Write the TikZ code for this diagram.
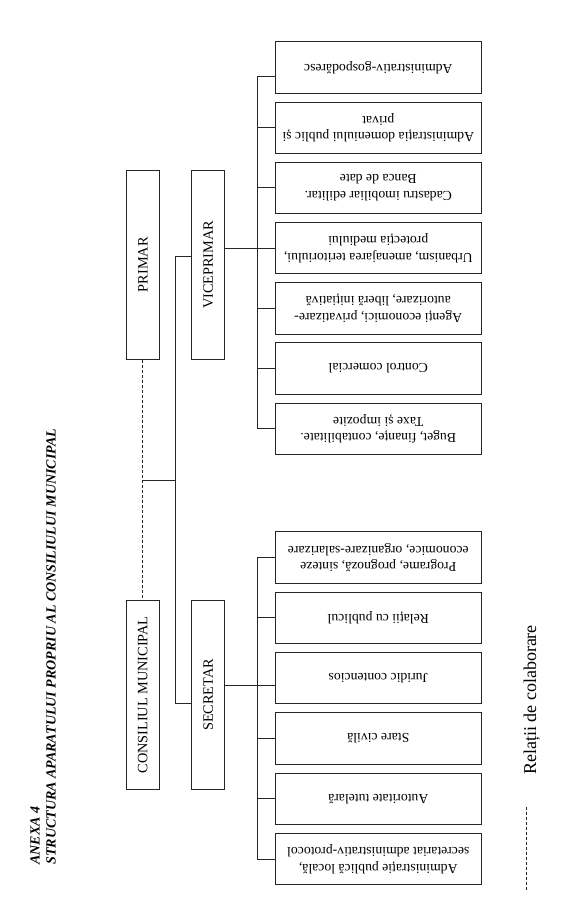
\documentclass[tikz,border=0pt]{standalone}
\usepackage{fontspec}
\setmainfont{Liberation Serif}
\usetikzlibrary{positioning,calc}

\begin{document}
\begin{tikzpicture}
[x=1pt, y=-1pt, draw=black!85, line width=0.9pt,
chief/.style={rectangle, draw, rotate=90, inner sep=0pt, minimum width=189.6pt, minimum height=33pt, font=\fontsize{14.3}{16}\selectfont},
dept/.style={rectangle, draw, rotate=180, inner sep=0pt, minimum width=205.7pt, minimum height=51.5pt, align=center, font=\fontsize{13.7}{16.6}\selectfont},
collab/.style={dash pattern=on 3pt off 2pt},
title/.style={rotate=90, anchor=west, inner sep=0pt, font=\fontsize{14}{16}\selectfont\bfseries\itshape}]

\useasboundingbox (0,0) rectangle (576,924);

% title
\node[title] (anexa) at (35,865) {ANEXA 4};
\node[title] (titlu) at (51,865) {STRUCTURA APARATULUI PROPRIU AL CONSILIULUI MUNICIPAL};

% rotated boxes: .west = bottom, .east = top, .north = left, .south = right
\node[chief] (primar) at (142.8,264.8) {PRIMAR};
\node[chief] (consiliu) at (142.8,694.9) {CONSILIUL MUNICIPAL};
\node[chief] (vice) at (208.2,264.8) {VICEPRIMAR};
\node[chief] (secretar) at (208.2,694.9) {SECRETAR};

\draw[collab] (primar.west) -- (consiliu.east);

\coordinate (hub) at (175.8,480.5);
\coordinate (busV) at (175.8,256);
\coordinate (busS) at (175.8,703.8);
\draw (primar.west |- hub) -- (hub);
\draw (vice.north |- busV) -- (busV) -- (busS) -- (secretar.north |- busS);

% viceprimar departments (upside down, .east = left side)
\foreach \t [count=\i] in {Administrativ-gospodăresc,
  {Administrația domeniului public și\\privat},
  {Cadastru imobiliar edilitar.\\Banca de date},
  {Urbanism, amenajarea teritoriului,\\protecția mediului},
  {Agenți economici, privatizare-\\autorizare, liberă inițiativă},
  Control comercial,
  {Buget, finanțe, contabilitate.\\Taxe și impozite}} {
  \node[dept] (v\i) at (378.3,7.3+60.2*\i) {\t};
}

\coordinate (vbus) at (257.3,0);
\coordinate (vtop) at ($(v1.east)+(0,8.5)$);
\draw (vtop) -- (vtop -| vbus) -- (v7.east -| vbus) -- (v7.east);
\foreach \i in {2,...,6} {
  \draw (v\i.east -| vbus) -- (v\i.east);
}
\draw (vice.south |- v4.east) -- (v4.east);

% secretar departments
\foreach \t [count=\i] in {{Programe, prognoză, sinteze\\economice, organizare-salarizare},
  Relații cu publicul,
  Juridic contencios,
  Stare civilă,
  Autoritate tutelară,
  {Administrație publică locală,\\secretariat administrativ-protocol}} {
  \node[dept] (s\i) at (378.3,497.2+60.3*\i) {\t};
}

\draw (s1.east) -- (s1.east -| vbus) -- (s6.east -| vbus) -- (s6.east);
\foreach \i in {2,4,5} {
  \draw (s\i.east -| vbus) -- (s\i.east);
}
\coordinate (sjoin) at ($(s3.east)+(0,7.7)$);
\draw (secretar.south |- sjoin) -- (sjoin);

% legend
\coordinate (keytop) at (526.7,806.7);
\coordinate (keybot) at (526.7,890);
\draw[collab] (keytop) -- (keybot);
\node[rotate=90, font=\fontsize{18}{20}\selectfont] (relatii) at (531.7,700) {Relații de colaborare};
\end{tikzpicture}
\end{document}
